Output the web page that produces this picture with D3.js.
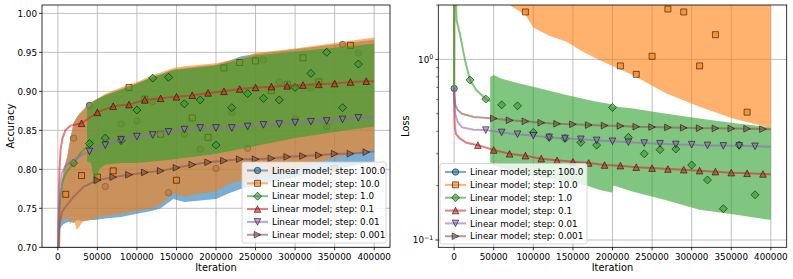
<!DOCTYPE html>
<html>
<head>
<meta charset="UTF-8">
<title>Linear model: accuracy and loss</title>
<script src="https://d3js.org/d3.v7.min.js"></script>
<style>
 body { margin: 0; background: #fff; }
 text { font-family: "DejaVu Sans", sans-serif; fill: #000; }
</style>
</head>
<body>
<script type="text/javascript">
// ---- data ----
var stepLabels = ["100.0", "10.0", "1.0", "0.1", "0.01", "0.001"];
var iterTicks = [0, 50000, 100000, 150000, 200000, 250000, 300000, 350000, 400000];
var accTicks = [0.70, 0.75, 0.80, 0.85, 0.90, 0.95, 1.00];
var lossMajor = [0.1, 1];
var lossMinor = [0.2, 0.3, 0.4, 0.5, 0.6, 0.7, 0.8, 0.9, 2];

// accuracy: noisy runs as envelopes [iteration, low, high]
var blueAccBand = [[0,0.70,0.70],[1500,0.72,0.75],[4000,0.726,0.775],[7500,0.73,0.80],[12000,0.732,0.817],[16000,0.733,0.84],[20000,0.731,0.86],[24000,0.735,0.867],[28000,0.734,0.872],[33000,0.733,0.877],[37000,0.735,0.883],[47000,0.735,0.889],[60000,0.737,0.895],[80000,0.739,0.903],[100000,0.743,0.91],[120000,0.747,0.919],[130000,0.75,0.922],[146000,0.762,0.928],[160000,0.758,0.93],[180000,0.76,0.932],[200000,0.762,0.934],[218000,0.77,0.94],[232000,0.775,0.945],[250000,0.78,0.948],[300000,0.79,0.954],[350000,0.80,0.96],[400000,0.81,0.966]];
var orangeAccBand = [[0,0.70,0.70],[1500,0.726,0.75],[4000,0.733,0.773],[7500,0.736,0.80],[12000,0.738,0.816],[16000,0.73,0.84],[20000,0.737,0.859],[24000,0.722,0.866],[28000,0.728,0.872],[33000,0.735,0.877],[37000,0.733,0.882],[47000,0.738,0.889],[60000,0.74,0.897],[80000,0.743,0.905],[100000,0.747,0.912],[120000,0.75,0.921],[130000,0.755,0.924],[146000,0.769,0.93],[160000,0.765,0.932],[180000,0.769,0.934],[200000,0.772,0.936],[218000,0.782,0.94],[232000,0.785,0.942],[250000,0.79,0.949],[300000,0.80,0.955],[350000,0.815,0.962],[400000,0.825,0.969]];
var greenAccBand = [[37000,0.81,0.878],[42000,0.808,0.883],[45000,0.79,0.886],[48000,0.778,0.889],[52000,0.80,0.891],[60000,0.806,0.895],[80000,0.808,0.902],[100000,0.808,0.91],[120000,0.81,0.918],[146000,0.813,0.927],[180000,0.817,0.931],[200000,0.82,0.933],[250000,0.83,0.946],[300000,0.84,0.951],[350000,0.848,0.956],[400000,0.855,0.961]];
var greenAccLead = [[0,0.5],[800,0.70],[1500,0.74],[3000,0.765],[6000,0.785],[10000,0.795],[20000,0.808],[30000,0.822],[40000,0.833],[46000,0.838]];
var redAccLead = [[0,0.5],[600,0.72],[1300,0.773],[2200,0.80],[3400,0.825],[6000,0.84],[9500,0.85],[16000,0.856]];
var purpleAccLead = [[0,0.5],[800,0.70],[1500,0.74],[3000,0.773],[5000,0.795],[10000,0.805],[20000,0.812],[30000,0.818]];
var brownAccLead = [[0,0.5],[1500,0.70],[2500,0.731],[5000,0.745],[10000,0.752],[20000,0.765],[33000,0.778]];
var redAccTail = [[400000,0.913]];
var purpleAccTail = [[400000,0.867]];
var brownAccTail = [[400000,0.823]];

// accuracy markers [iteration, value]
var blueAccMarks = [[20000,0.84],[40000,0.882],[60000,0.778],[80000,0.858],[100000,0.862],[120000,0.887],[140000,0.77],[160000,0.845],[180000,0.826],[200000,0.801],[220000,0.873],[240000,0.827],[260000,0.94],[280000,0.912],[300000,0.865],[320000,0.905],[340000,0.855],[360000,0.96],[380000,0.949]];
var orangeAccMarks = [[10000,0.768],[30000,0.792],[50000,0.79],[70000,0.798],[90000,0.905],[110000,0.89],[130000,0.845],[150000,0.786],[170000,0.866],[190000,0.841],[210000,0.93],[230000,0.937],[250000,0.939],[270000,0.901],[290000,0.909],[310000,0.943],[330000,0.912],[350000,0.801],[370000,0.959]];
var greenAccMarks = [[20000,0.808],[40000,0.833],[60000,0.84],[80000,0.837],[100000,0.876],[120000,0.917],[140000,0.918],[160000,0.884],[180000,0.889],[200000,0.831],[220000,0.879],[240000,0.897],[260000,0.891],[280000,0.889],[300000,0.905],[320000,0.923],[340000,0.95],[360000,0.879],[380000,0.935]];
var redAccMarks = [[30000,0.859],[50000,0.873],[70000,0.881],[90000,0.883],[110000,0.889],[130000,0.891],[150000,0.893],[170000,0.895],[190000,0.898],[210000,0.9],[230000,0.903],[250000,0.905],[270000,0.906],[290000,0.907],[310000,0.908],[330000,0.909],[350000,0.91],[370000,0.912],[390000,0.913]];
var purpleAccMarks = [[40000,0.823],[60000,0.831],[80000,0.838],[100000,0.842],[120000,0.844],[140000,0.848],[160000,0.851],[180000,0.853],[200000,0.853],[220000,0.853],[240000,0.855],[260000,0.857],[280000,0.858],[300000,0.86],[320000,0.861],[340000,0.862],[360000,0.864],[380000,0.866]];
var brownAccMarks = [[50000,0.786],[70000,0.79],[90000,0.793],[110000,0.796],[130000,0.798],[150000,0.802],[170000,0.806],[190000,0.809],[210000,0.811],[230000,0.813],[250000,0.813],[270000,0.814],[290000,0.816],[310000,0.817],[330000,0.818],[350000,0.82],[370000,0.82],[390000,0.822]];

// loss
var orangeLossBand = [[60000,2.3,10],[70000,2.0,10],[90000,1.76,10],[100000,1.5,10],[120000,1.35,10],[142000,1.25,10],[160000,1.12,10],[184000,0.99,10],[226000,0.818,10],[268000,0.648,10],[310000,0.547,10],[352000,0.471,10],[394000,0.423,10],[400000,0.42,10]];
var greenLossBand = [[45500,0.27,0.80],[50000,0.26,0.82],[60000,0.25,0.78],[80000,0.237,0.74],[100000,0.227,0.705],[142000,0.21,0.634],[167000,0.2,0.60],[184000,0.189,0.578],[199000,0.183,0.565],[200000,0.183,0.53],[201000,0.2,0.55],[226000,0.185,0.535],[268000,0.166,0.50],[310000,0.147,0.47],[352000,0.139,0.445],[400000,0.129,0.42]];
var blueLossLead = [[0,0.693],[300,10]];
var orangeLossLead = [[0,0.693],[400,10]];
var greenLossLead = [[0,0.693],[150,10],[1500,3],[3000,1.65],[7200,1.39],[10000,1.2],[14000,0.98],[20000,0.768],[28000,0.676],[40000,0.603],[46000,0.585]];
var redLossLead = [[0,0.693],[200,0.55],[500,0.47],[900,0.42],[2500,0.385],[7200,0.365],[15600,0.345]];
var purpleLossLead = [[0,0.693],[500,0.60],[1200,0.50],[4500,0.45],[10000,0.42],[25000,0.408]];
var brownLossLead = [[0,0.693],[300,0.62],[1500,0.56],[4500,0.524],[10000,0.50],[25000,0.48]];
var redLossTail = [[400000,0.231]];
var purpleLossTail = [[400000,0.328]];
var brownLossTail = [[400000,0.41]];

var blueLossMarks = [[0,0.69]];
var orangeLossMarks = [[90000,1.83],[210000,0.92],[230000,0.826],[250000,1.04],[270000,1.9],[290000,1.83],[310000,0.92],[330000,1.37],[370000,0.51]];
var greenLossMarks = [[20000,0.768],[40000,0.603],[60000,0.56],[80000,0.553],[100000,0.394],[120000,0.37],[140000,0.365],[160000,0.347],[180000,0.335],[200000,0.542],[220000,0.37],[240000,0.30],[260000,0.316],[280000,0.319],[300000,0.26],[320000,0.215],[340000,0.149],[360000,0.335],[380000,0.178]];
var redLossMarks = [[30000,0.335],[50000,0.315],[70000,0.30],[90000,0.293],[110000,0.282],[130000,0.276],[150000,0.271],[170000,0.267],[190000,0.26],[210000,0.258],[230000,0.253],[250000,0.25],[270000,0.247],[290000,0.245],[310000,0.242],[330000,0.239],[350000,0.236],[370000,0.234],[390000,0.232]];
var purpleLossMarks = [[40000,0.406],[60000,0.394],[80000,0.385],[100000,0.378],[120000,0.37],[140000,0.365],[160000,0.361],[180000,0.356],[200000,0.352],[220000,0.348],[240000,0.344],[260000,0.341],[280000,0.338],[300000,0.337],[320000,0.334],[340000,0.332],[360000,0.332],[380000,0.33]];
var brownLossMarks = [[50000,0.471],[70000,0.46],[90000,0.454],[110000,0.446],[130000,0.44],[150000,0.437],[170000,0.433],[190000,0.43],[210000,0.428],[230000,0.424],[250000,0.422],[270000,0.42],[290000,0.418],[310000,0.416],[330000,0.415],[350000,0.414],[370000,0.413],[390000,0.411]];

// ---- drawing ----
var colors = ["#1f77b4", "#ff7f0e", "#2ca02c", "#d62728", "#9467bd", "#8c564b"];
var shapes = ["o", "s", "D", "^", "v", ">"];
var alpha = 0.6;

var accSeries = [
  {band: blueAccBand, marks: blueAccMarks},
  {band: orangeAccBand, marks: orangeAccMarks},
  {band: greenAccBand, line: greenAccLead, marks: greenAccMarks},
  {line: redAccLead.concat(redAccMarks, redAccTail), marks: redAccMarks},
  {line: purpleAccLead.concat(purpleAccMarks, purpleAccTail), marks: purpleAccMarks},
  {line: brownAccLead.concat(brownAccMarks, brownAccTail), marks: brownAccMarks}
];
var lossSeries = [
  {line: blueLossLead, marks: blueLossMarks},
  {band: orangeLossBand, line: orangeLossLead, marks: orangeLossMarks},
  {band: greenLossBand, line: greenLossLead, marks: greenLossMarks},
  {line: redLossLead.concat(redLossMarks, redLossTail), marks: redLossMarks},
  {line: purpleLossLead.concat(purpleLossMarks, purpleLossTail), marks: purpleLossMarks},
  {line: brownLossLead.concat(brownLossMarks, brownLossTail), marks: brownLossMarks}
];

var svg = d3.select("body").append("svg")
      .attr("width", 793)
      .attr("height", 279);

function markerPath(s) {
  if (s == "o") return "M3.2,0A3.2,3.2 0 1,1 -3.2,0A3.2,3.2 0 1,1 3.2,0Z";
  if (s == "s") return "M-3,-3H3V3H-3Z";
  if (s == "D") return "M0,-4L4,0L0,4L-4,0Z";
  if (s == "^") return "M0,-3.3L3.3,3.3L-3.3,3.3Z";
  if (s == "v") return "M0,3.3L3.3,-3.3L-3.3,-3.3Z";
  return "M3.3,0L-3.3,3.3L-3.3,-3.3Z";
}

function drawMarker(g, s, c, px, py) {
  g.append("path")
    .attr("d", markerPath(s))
    .attr("transform", "translate(" + px + "," + py + ")")
    .attr("fill", c).attr("fill-opacity", alpha)
    .attr("stroke", "#000").attr("stroke-opacity", alpha)
    .attr("stroke-width", 0.9);
}

function drawPanel(p) {
  var x = d3.scaleLinear().domain([-20000, 420000]).range([p.left, p.right]);
  var y = p.y.range([p.bottom, p.top]);
  var g = svg.append("g");

  g.append("clipPath").attr("id", p.id)
    .append("rect")
    .attr("x", p.left).attr("y", p.top)
    .attr("width", p.right - p.left).attr("height", p.bottom - p.top);

  // grid
  iterTicks.forEach(function (t) {
    g.append("line").attr("x1", x(t)).attr("x2", x(t))
      .attr("y1", p.top).attr("y2", p.bottom)
      .attr("stroke", "#b0b0b0").attr("stroke-width", 0.8);
  });
  p.yTicks.forEach(function (t) {
    g.append("line").attr("x1", p.left).attr("x2", p.right)
      .attr("y1", y(t)).attr("y2", y(t))
      .attr("stroke", "#b0b0b0").attr("stroke-width", 0.8);
  });

  var plot = g.append("g").attr("clip-path", "url(#" + p.id + ")");
  var area = d3.area()
      .x(function (d) { return x(d[0]); })
      .y0(function (d) { return y(d[1]); })
      .y1(function (d) { return y(d[2]); });
  var line = d3.line()
      .x(function (d) { return x(d[0]); })
      .y(function (d) { return y(d[1]); });

  p.series.forEach(function (s, i) {
    if (s.band) {
      plot.append("path").attr("d", area(s.band))
        .attr("fill", colors[i]).attr("fill-opacity", alpha);
    }
    if (s.line) {
      plot.append("path").attr("d", line(s.line))
        .attr("fill", "none").attr("stroke", colors[i])
        .attr("stroke-opacity", alpha).attr("stroke-width", 2);
    }
    s.marks.forEach(function (m) {
      drawMarker(plot, shapes[i], colors[i], x(m[0]), y(m[1]));
    });
  });

  // spines
  g.append("rect")
    .attr("x", p.left).attr("y", p.top)
    .attr("width", p.right - p.left).attr("height", p.bottom - p.top)
    .attr("fill", "none").attr("stroke", "#000").attr("stroke-width", 0.8);

  // x ticks
  iterTicks.forEach(function (t) {
    g.append("line").attr("x1", x(t)).attr("x2", x(t))
      .attr("y1", p.bottom).attr("y2", p.bottom + 3)
      .attr("stroke", "#000").attr("stroke-width", 0.8);
    g.append("text").attr("x", x(t)).attr("y", p.bottom + 12.5)
      .attr("text-anchor", "middle").attr("font-size", 8.8)
      .text(t);
  });

  // y ticks
  p.yTicks.forEach(function (t) {
    g.append("line").attr("x1", p.left - 3).attr("x2", p.left)
      .attr("y1", y(t)).attr("y2", y(t))
      .attr("stroke", "#000").attr("stroke-width", 0.8);
    var lab = g.append("text").attr("x", p.left - 5).attr("y", y(t) + 3.2)
      .attr("text-anchor", "end").attr("font-size", 8.8);
    p.yLabel(lab, t);
  });
  (p.yMinor || []).forEach(function (t) {
    g.append("line").attr("x1", p.left - 2).attr("x2", p.left)
      .attr("y1", y(t)).attr("y2", y(t))
      .attr("stroke", "#000").attr("stroke-width", 0.6);
  });

  // axis titles
  g.append("text").attr("x", (p.left + p.right) / 2).attr("y", 271)
    .attr("text-anchor", "middle").attr("font-size", 9.8).text("Iteration");
  g.append("text")
    .attr("transform", "translate(" + p.titleX + "," + (p.top + p.bottom) / 2 + ") rotate(-90)")
    .attr("text-anchor", "middle").attr("font-size", 9.8).text(p.title);

  // legend
  var lg = g.append("g");
  lg.append("rect").attr("x", p.legend[0]).attr("y", p.legend[1])
    .attr("width", p.legend[2]).attr("height", p.legend[3])
    .attr("rx", 2).attr("fill", "#fff").attr("fill-opacity", 0.8)
    .attr("stroke", "#cccccc").attr("stroke-width", 0.8);
  stepLabels.forEach(function (lbl, i) {
    var cy = p.legend[1] + 8.5 + i * 12.85;
    var hx = p.legend[0] + 5;
    lg.append("line").attr("x1", hx).attr("x2", hx + 21)
      .attr("y1", cy).attr("y2", cy)
      .attr("stroke", colors[i]).attr("stroke-opacity", alpha).attr("stroke-width", 2);
    drawMarker(lg, shapes[i], colors[i], hx + 10.5, cy);
    lg.append("text").attr("x", hx + 25).attr("y", cy + 3.2)
      .attr("font-size", 8.8).text("Linear model; step: " + lbl);
  });
}

drawPanel({
  id: "clipAcc", left: 42, right: 390, top: 5, bottom: 247.3,
  y: d3.scaleLinear().domain([0.70, 1.0107]),
  yTicks: accTicks,
  yLabel: function (el, t) { el.text(d3.format(".2f")(t)); },
  series: accSeries,
  title: "Accuracy", titleX: 13.5,
  legend: [242, 162, 144, 81]
});

drawPanel({
  id: "clipLoss", left: 438.3, right: 786.7, top: 5, bottom: 247.3,
  y: d3.scaleLog().domain([0.0911, 2.0]),
  yTicks: lossMajor,
  yMinor: lossMinor,
  yLabel: function (el, t) {
    el.append("tspan").text("10");
    el.append("tspan").attr("dy", -3.6).attr("font-size", 6.3)
      .text(t == 1 ? "0" : "\u22121");
  },
  series: lossSeries,
  title: "Loss", titleX: 408.5,
  legend: [440, 163.5, 147, 80.5]
});
</script>
</body>
</html>
